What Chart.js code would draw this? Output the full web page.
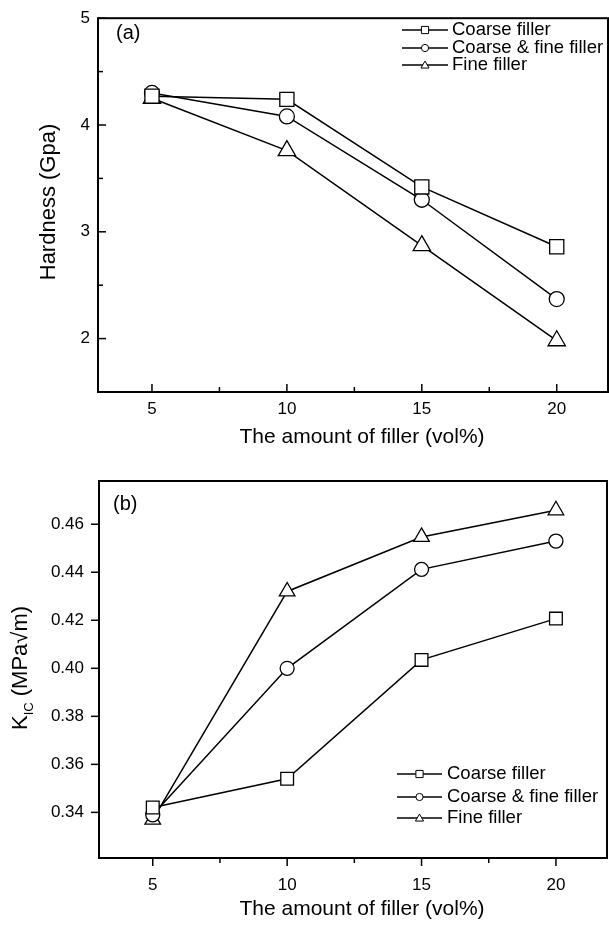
<!DOCTYPE html>
<html>
<head>
<meta charset="utf-8">
<script src="https://cdn.jsdelivr.net/npm/chart.js@4/dist/chart.umd.min.js"></script>
<style>
  body { margin: 0; background: #fff; }
  .box { position: absolute; left: 0; }
</style>
</head>
<body>
<div class="box" style="top:0"><canvas id="hard" width="609" height="455"></canvas></div>
<div class="box" style="top:455px"><canvas id="kic" width="609" height="470"></canvas></div>
<script>
// filler content (vol%)
const fillerVol = [5, 10, 15, 20];
const seriesNames = ['Coarse filler', 'Coarse & fine filler', 'Fine filler'];

// (a) hardness, GPa
const hardCoarse = [4.27, 4.24, 3.42, 2.86];
const hardMixed  = [4.30, 4.08, 3.30, 2.37];
const hardFine   = [4.25, 3.76, 2.87, 1.98];

// (b) fracture toughness K_IC, MPa·m^1/2
const kicCoarse = [0.342, 0.354, 0.4035, 0.4207];
const kicMixed  = [0.339, 0.400, 0.4412, 0.4530];
const kicFine   = [0.337, 0.432, 0.4547, 0.4658];

const xTicks = [5, 10, 15, 20];
const xMinor = [7.5, 12.5, 17.5];
const hardTicks = [2, 3, 4, 5];
const hardMinor = [2.5, 3.5, 4.5];
const kicTicks = [0.34, 0.36, 0.38, 0.40, 0.42, 0.44, 0.46];

const FONT = "'Liberation Sans', Arial, sans-serif";
const styles = ['rect', 'circle', 'triangle'];

function pts(ys) { return fillerVol.map((x, i) => ({ x: x, y: ys[i] })); }

function makeSets(lists, radii) {
  return lists.map((ys, i) => ({
    label: seriesNames[i],
    data: pts(ys),
    borderColor: '#000',
    borderWidth: 1.5,
    pointStyle: styles[i],
    pointRadius: radii[i],
    pointBorderWidth: 1.3,
    pointBackgroundColor: '#fff',
    pointBorderColor: '#000',
    showLine: true,
    tension: 0
  }));
}

function line(ctx, x0, y0, x1, y1) {
  ctx.beginPath(); ctx.moveTo(x0, y0); ctx.lineTo(x1, y1); ctx.stroke();
}

function marker(ctx, style, r, x, y) {
  ctx.save();
  ctx.fillStyle = '#fff'; ctx.strokeStyle = '#000'; ctx.lineWidth = 1;
  ctx.beginPath();
  if (style === 'rect') {
    ctx.rect(x - r, y - r, 2 * r, 2 * r);
  } else if (style === 'circle') {
    ctx.arc(x, y, r, 0, Math.PI * 2);
  } else {
    ctx.moveTo(x, y - r * 1.15);
    ctx.lineTo(x + r * 1.2, y + r * 0.9);
    ctx.lineTo(x - r * 1.2, y + r * 0.9);
    ctx.closePath();
  }
  ctx.fill(); ctx.stroke();
  ctx.restore();
}

// frame, ticks, titles, legend, panel label
const deco = {
  id: 'deco',
  beforeDatasetsDraw(chart, args, o) {
    const ctx = chart.ctx, a = chart.chartArea;
    const xs = chart.scales.x, ys = chart.scales.y;
    ctx.save();
    ctx.strokeStyle = '#000';
    ctx.lineWidth = 2;
    ctx.strokeRect(a.left, a.top, a.right - a.left, a.bottom - a.top);
    ctx.lineWidth = 1.5;
    const d = o.inward ? -1 : 1;
    xTicks.forEach(v => { const p = xs.getPixelForValue(v); line(ctx, p, a.bottom, p, a.bottom + d * 8); });
    xMinor.forEach(v => { const p = xs.getPixelForValue(v); line(ctx, p, a.bottom, p, a.bottom + d * 5); });
    o.yMajor.forEach(v => { const p = ys.getPixelForValue(v); line(ctx, a.left, p, a.left - d * 8, p); });
    o.yMinor.forEach(v => { const p = ys.getPixelForValue(v); line(ctx, a.left, p, a.left - d * 5, p); });
    ctx.restore();
  },
  afterDraw(chart, args, o) {
    const ctx = chart.ctx;
    ctx.save();
    ctx.fillStyle = '#000';
    ctx.strokeStyle = '#000';

    // panel label
    ctx.font = '20px ' + FONT;
    ctx.textBaseline = 'middle';
    ctx.textAlign = 'left';
    ctx.fillText(o.panel, o.panelX, o.panelY);

    // x title
    ctx.font = '21px ' + FONT;
    ctx.textAlign = 'center';
    ctx.fillText('The amount of filler (vol%)', o.xTitleX, o.xTitleY);

    // y title, rotated, with optional subscript
    ctx.save();
    ctx.translate(o.yTitleX, o.yTitleY);
    ctx.rotate(-Math.PI / 2);
    ctx.textBaseline = 'alphabetic';
    ctx.textAlign = 'left';
    const big = o.yTitleSize + 'px ' + FONT, small = '13px ' + FONT;
    let total = 0;
    o.yTitle.forEach(p => { ctx.font = p.sub ? small : big; total += ctx.measureText(p.t).width; });
    let x = -total / 2;
    o.yTitle.forEach(p => {
      ctx.font = p.sub ? small : big;
      ctx.fillText(p.t, x, p.sub ? 6 : 0);
      x += ctx.measureText(p.t).width;
    });
    ctx.restore();

    // legend
    ctx.font = '18.5px ' + FONT;
    ctx.textAlign = 'left';
    ctx.textBaseline = 'middle';
    ctx.lineWidth = 1.5;
    const L = o.legend;
    chart.data.datasets.forEach((ds, i) => {
      const y = L.rows[i];
      line(ctx, L.x0, y, L.x1, y);
      marker(ctx, ds.pointStyle, [3.6, 3.6, 3.4][i], (L.x0 + L.x1) / 2, y);
      ctx.fillText(ds.label, L.tx, y);
    });
    ctx.restore();
  }
};

function build(id, lists, radii, yMin, yMax, yTicks, fmt, pad, yWidth, xHeight, yPad, xPad, decoOpts) {
  return new Chart(document.getElementById(id), {
    type: 'scatter',
    data: { datasets: makeSets(lists, radii) },
    options: {
      responsive: false,
      animation: false,
      events: [],
      layout: { padding: pad, autoPadding: false },
      plugins: { legend: { display: false }, tooltip: { enabled: false }, deco: decoOpts },
      scales: {
        x: {
          type: 'linear', min: 3, max: 21.9,
          grid: { display: false, drawTicks: false },
          border: { display: false },
          afterBuildTicks: s => { s.ticks = xTicks.map(v => ({ value: v })); },
          afterFit: s => { s.height = xHeight; },
          ticks: { color: '#000', font: { size: 17, family: FONT }, padding: xPad, autoSkip: false, maxRotation: 0 }
        },
        y: {
          type: 'linear', min: yMin, max: yMax,
          grid: { display: false, drawTicks: false },
          border: { display: false },
          afterBuildTicks: s => { s.ticks = yTicks.map(v => ({ value: v })); },
          afterFit: s => { s.width = yWidth; },
          ticks: { color: '#000', font: { size: 17, family: FONT }, padding: yPad, autoSkip: false, callback: fmt }
        }
      }
    },
    plugins: [deco]
  });
}

build('hard', [hardCoarse, hardMixed, hardFine], [10, 7.5, 10], 1.5, 5, hardTicks,
  v => String(v), { top: 12, right: 1, left: 0, bottom: 0 }, 98, 63, 8, 7, {
    inward: true, yMajor: hardTicks, yMinor: hardMinor,
    panel: '(a)', panelX: 116, panelY: 33,
    xTitleX: 362, xTitleY: 437,
    yTitleX: 55, yTitleY: 202, yTitleSize: 22,
    yTitle: [{ t: 'Hardness (Gpa)' }],
    legend: { x0: 402, x1: 448, tx: 452, rows: [30, 48, 65] }
  });

build('kic', [kicCoarse, kicMixed, kicFine], [9, 7, 9], 0.321, 0.478, kicTicks,
  v => v.toFixed(2), { top: 26, right: 2, left: 0, bottom: 0 }, 99, 67, 15, 17, {
    inward: false, yMajor: kicTicks, yMinor: [],
    panel: '(b)', panelX: 113, panelY: 49,
    xTitleX: 362, xTitleY: 454,
    yTitleX: 27, yTitleY: 213, yTitleSize: 22,
    yTitle: [{ t: 'K' }, { t: 'IC', sub: true }, { t: ' (MPa\u221Am)' }],
    legend: { x0: 397, x1: 442, tx: 447, rows: [319, 342, 363] }
  });
</script>
</body>
</html>
